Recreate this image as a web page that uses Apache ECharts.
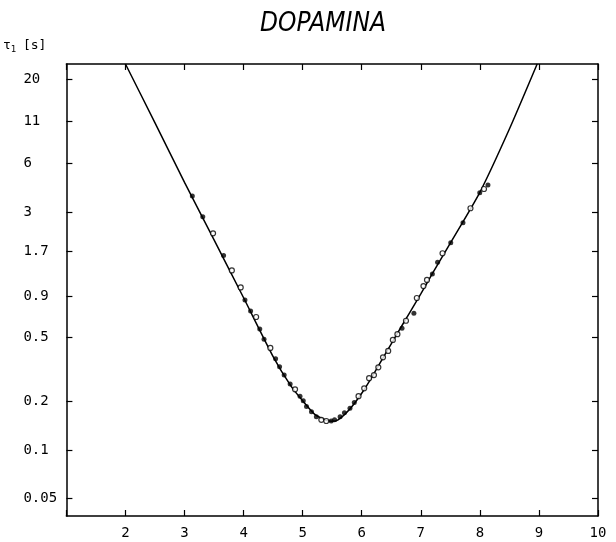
<!DOCTYPE html>
<html>
<head>
<meta charset="utf-8">
<script src="https://cdn.jsdelivr.net/npm/echarts@6/dist/echarts.min.js"></script>
<style>html,body{margin:0;padding:0;background:#fff}#c{width:616px;height:542px}</style>
</head>
<body>
<div id="c"></div>
<script>
// ---- data ----
const titleText = 'DOPAMINA';
const xTickLabels = [2, 3, 4, 5, 6, 7, 8, 9, 10];
const yTickLabels = [0.05, 0.1, 0.2, 0.5, 0.9, 1.7, 3, 6, 11, 20];

// fitted curve
const curveX = [2.0, 2.5, 3.0, 3.5, 4.0, 4.5, 4.8, 5.0, 5.2, 5.4, 5.5, 5.6, 5.8, 6.0, 6.2, 6.4, 6.6, 6.8, 7.0, 7.2, 7.5, 8.0, 8.5, 8.97];
const curveY = [24.8, 10.7, 4.57, 2.01, 0.88, 0.38, 0.25, 0.202, 0.167, 0.153, 0.151, 0.154, 0.18, 0.225, 0.295, 0.395, 0.527, 0.70, 0.93, 1.25, 1.92, 3.97, 9.8, 24.8];

// filled circles
const filledX = [3.132, 3.309, 3.661, 4.023, 4.119, 4.274, 4.346, 4.542, 4.609, 4.687, 4.788, 4.955, 5.010, 5.065, 5.149, 5.232, 5.483, 5.540, 5.634, 5.707, 5.801, 5.874, 6.682, 6.883, 7.196, 7.284, 7.507, 7.714, 7.998, 8.137];
const filledY = [3.77, 2.80, 1.61, 0.853, 0.729, 0.564, 0.486, 0.369, 0.329, 0.292, 0.257, 0.216, 0.202, 0.186, 0.173, 0.161, 0.1515, 0.154, 0.161, 0.1705, 0.1816, 0.197, 0.569, 0.705, 1.236, 1.461, 1.933, 2.573, 3.95, 4.41];

// open circles
const openX = [3.483, 3.801, 3.951, 4.212, 4.453, 4.871, 5.316, 5.400, 5.946, 6.042, 6.125, 6.207, 6.281, 6.360, 6.448, 6.527, 6.604, 6.749, 6.933, 7.045, 7.105, 7.368, 7.841, 8.07];
const openY = [2.21, 1.30, 1.02, 0.669, 0.430, 0.238, 0.154, 0.1515, 0.216, 0.2416, 0.279, 0.292, 0.326, 0.376, 0.412, 0.482, 0.523, 0.634, 0.877, 1.04, 1.135, 1.662, 3.16, 4.16];

const zip = (xs, ys) => xs.map((x, i) => [x, ys[i]]);

const fontMono = '"DejaVu Sans Mono", monospace';
const axisLineStyle = { color: '#000', width: 1.5 };

const chart = echarts.init(document.getElementById('c'), null, { renderer: 'canvas' });
chart.setOption({
  animation: false,
  backgroundColor: '#fff',
  title: {
    text: titleText,
    left: 318, top: 6, textAlign: 'center',
    textStyle: { fontFamily: '"DejaVu Sans Condensed", "DejaVu Sans", sans-serif', fontStyle: 'italic', fontWeight: 'normal', fontSize: 26, color: '#000' }
  },
  grid: { left: 60, right: 18, top: 64, bottom: 26, containLabel: false },
  xAxis: [{
    type: 'value', min: 1, max: 10, interval: 1, position: 'bottom',
    axisLine: { lineStyle: axisLineStyle },
    axisTick: { inside: true, length: 6, lineStyle: { color: '#000', width: 1.2 } },
    axisLabel: { margin: 10, color: '#000', fontFamily: fontMono, fontSize: 14,
      formatter: v => (xTickLabels.indexOf(v) >= 0 ? String(v) : '') },
    splitLine: { show: false }
  }, {
    type: 'value', min: 1, max: 10, interval: 1, position: 'top',
    axisLine: { lineStyle: axisLineStyle },
    axisTick: { inside: true, length: 6, lineStyle: { color: '#000', width: 1.2 } },
    axisLabel: { show: false }, splitLine: { show: false }
  }],
  yAxis: [{
    type: 'log', logBase: 10, min: 0.039, max: 24.8, position: 'left',
    name: '{t|τ}{s|1}  {u|[s]}', nameLocation: 'end', nameGap: 10,
    nameTextStyle: { align: 'right', padding: [0, 20, 0, 0],
      rich: { t: { fontFamily: fontMono, fontSize: 13, color: '#000' },
              s: { fontFamily: fontMono, fontSize: 9, color: '#000', padding: [8, 0, 0, 0] },
              u: { fontFamily: fontMono, fontSize: 13, color: '#000' } } },
    axisLine: { lineStyle: axisLineStyle },
    axisTick: { inside: true, length: 6, customValues: yTickLabels, lineStyle: { color: '#000', width: 1.2 } },
    axisLabel: { customValues: yTickLabels, align: 'left', margin: 43, color: '#000', fontFamily: fontMono, fontSize: 14,
      formatter: v => String(v) },
    splitLine: { show: false }, minorTick: { show: false }
  }, {
    type: 'log', logBase: 10, min: 0.039, max: 24.8, position: 'right',
    axisLine: { lineStyle: axisLineStyle },
    axisTick: { inside: true, length: 6, customValues: yTickLabels, lineStyle: { color: '#000', width: 1.2 } },
    axisLabel: { show: false }, splitLine: { show: false }
  }],
  series: [{
    type: 'line', xAxisIndex: 0, yAxisIndex: 0, data: zip(curveX, curveY),
    smooth: 0.2, showSymbol: false, lineStyle: { color: '#000', width: 1.5 }, z: 2
  }, {
    type: 'scatter', xAxisIndex: 0, yAxisIndex: 0, data: zip(filledX, filledY),
    symbol: 'circle', symbolSize: 5, itemStyle: { color: '#000' }, z: 3
  }, {
    type: 'scatter', xAxisIndex: 0, yAxisIndex: 0, data: zip(openX, openY),
    symbol: 'circle', symbolSize: 5, itemStyle: { color: '#fff', borderColor: '#000', borderWidth: 1.2 }, z: 4
  }]
});
</script>
</body>
</html>
